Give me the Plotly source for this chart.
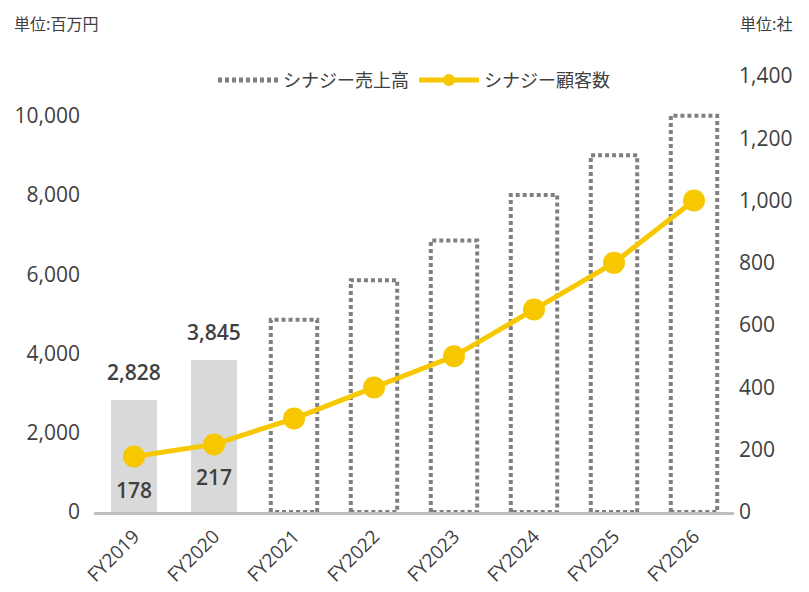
import plotly.graph_objects as go

categories = ["FY2019", "FY2020", "FY2021", "FY2022", "FY2023", "FY2024", "FY2025", "FY2026"]
sales_actual = [2828, 3845, None, None, None, None, None, None]
sales_plan = [None, None, 4850, 5850, 6850, 8000, 9000, 10000]
customers = [178, 217, 300, 400, 500, 650, 800, 1000]
customer_labels = ["178", "217", "", "", "", "", "", ""]
left_ticks = [0, 2000, 4000, 6000, 8000, 10000]
right_ticks = [0, 200, 400, 600, 800, 1000, 1200, 1400]

FONT = "Open Sans, Noto Sans CJK JP, sans-serif"
JFONT = "Noto Sans CJK JP"
TXT = "#404040"
GRAY_BAR = "#d9d9d9"
DOT = "#7f7f7f"
YELLOW = "#f7c800"
BW = 0.58

xs = list(range(len(categories)))
fig = go.Figure()

# actual bars
ax = [x for x, v in zip(xs, sales_actual) if v is not None]
av = [v for v in sales_actual if v is not None]
fig.add_trace(go.Bar(
    x=ax, y=av, width=BW, marker=dict(color=GRAY_BAR, line=dict(width=0)),
    showlegend=False, hoverinfo="skip",
))
for x, v in zip(ax, av):
    fig.add_annotation(x=x, y=v, xref="x", yref="y", text=f"{v:,}", showarrow=False,
                       yanchor="bottom", yshift=12,
                       font=dict(family=FONT, size=21, color=TXT, weight=600))

# dotted planned bars
first = True
for x, v in zip(xs, sales_plan):
    if v is None:
        continue
    fig.add_trace(go.Scatter(
        x=[x - BW / 2, x - BW / 2, x + BW / 2, x + BW / 2, x - BW / 2],
        y=[0, v, v, 0, 0],
        mode="lines",
        line=dict(color=DOT, width=4, dash="4px,3px"),
        name="シナジー売上高", legendgroup="plan",
        showlegend=first, hoverinfo="skip",
    ))
    first = False

# customers line
fig.add_trace(go.Scatter(
    x=xs, y=customers, yaxis="y2",
    mode="lines+markers",
    line=dict(color=YELLOW, width=5),
    marker=dict(color=YELLOW, size=22),
    name="シナジー顧客数",
))

for x, v, t in zip(xs, customers, customer_labels):
    if t:
        fig.add_annotation(x=x, y=v, xref="x", yref="y2", text=t, showarrow=False,
                           yshift=-33, font=dict(family=FONT, size=21, color=TXT, weight=600))

fig.add_annotation(x=(12 - 94) / 640, y=1 + (76 - 9) / 436, xref="paper", yref="paper",
                   text="単位:百万円", showarrow=False, xanchor="left", yanchor="top",
                   font=dict(family=JFONT, size=16, color=TXT))
fig.add_annotation(x=(738 - 94) / 640, y=1 + (76 - 9) / 436, xref="paper", yref="paper",
                   text="単位:社", showarrow=False, xanchor="left", yanchor="top",
                   font=dict(family=JFONT, size=16, color=TXT))

fig.update_layout(
    width=801, height=584,
    margin=dict(l=86, r=75, t=68, b=80, autoexpand=False),
    paper_bgcolor="white", plot_bgcolor="white",
    font=dict(family=FONT, color=TXT, size=19),
    bargap=0, barmode="overlay",
    xaxis=dict(
        range=[-0.5, 7.5], tickmode="array", tickvals=xs, ticktext=categories,
        tickangle=-45, showgrid=False, zeroline=False,
        showline=True, linecolor="#bfbfbf", linewidth=2.5,
        ticks="outside", ticklen=3, tickcolor="rgba(0,0,0,0)",
        tickfont=dict(family=FONT, size=19, color=TXT),
    ),
    yaxis=dict(
        range=[0, 11000], tickmode="array", tickvals=left_ticks,
        ticktext=[f"{v:,}" for v in left_ticks],
        showgrid=False, zeroline=False, showline=False,
        ticklabelstandoff=13,
        tickfont=dict(family=FONT, size=21, color=TXT),
    ),
    yaxis2=dict(
        range=[0, 1400], overlaying="y", side="right", tickmode="array",
        tickvals=right_ticks, ticktext=[f"{v:,}" for v in right_ticks],
        showgrid=False, zeroline=False, showline=False,
        ticklabelstandoff=4,
        tickfont=dict(family=FONT, size=21, color=TXT),
    ),
    legend=dict(
        orientation="h", x=0.5, xanchor="center", y=0.99, yanchor="middle",
        font=dict(family=JFONT, size=18, color=TXT),
        itemwidth=60, bgcolor="rgba(0,0,0,0)", itemsizing="constant",
        tracegroupgap=0,
    ),
)

fig.write_html("out.html")
